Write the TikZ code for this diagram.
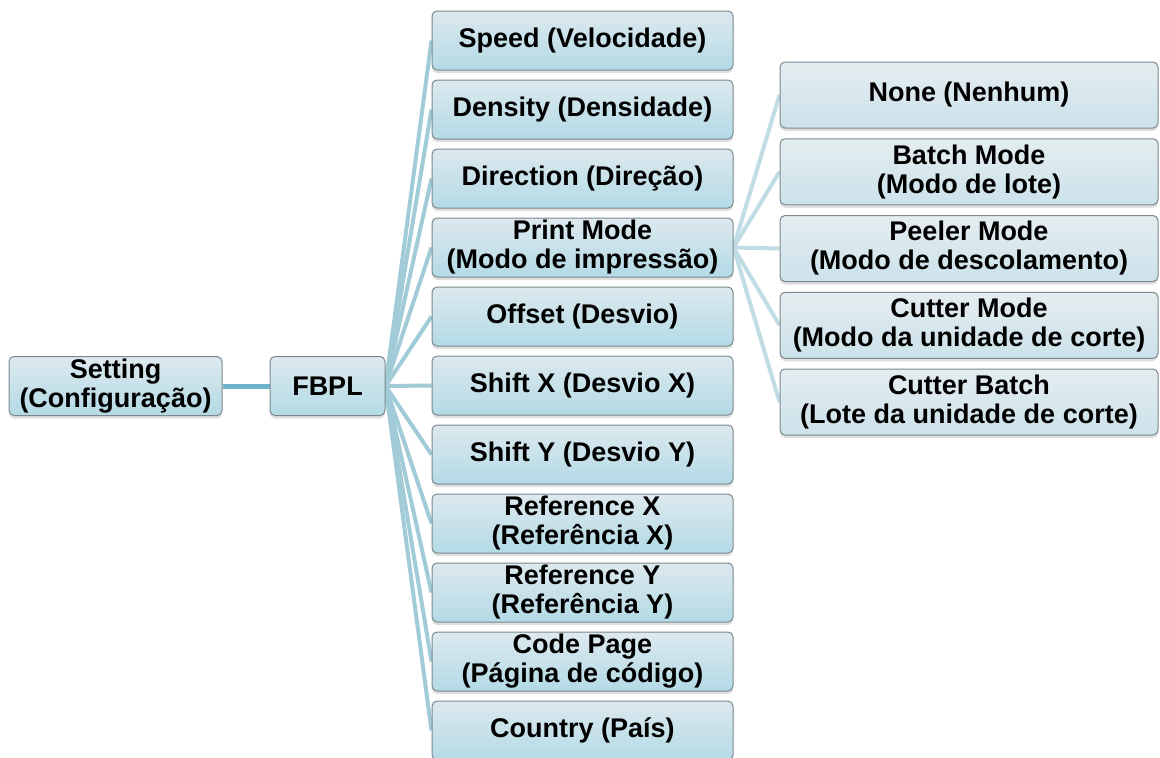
\documentclass[tikz,border=0pt]{standalone}
\usepackage{fontspec}
\setmainfont{Liberation Sans}
\usetikzlibrary{positioning,shadows,backgrounds}
\definecolor{boxtop}{HTML}{DDE9EE}
\definecolor{boxbot}{HTML}{B3DAE6}
\definecolor{subtop}{HTML}{E4EDF0}
\definecolor{subbot}{HTML}{CCE2EA}
\definecolor{boxline}{HTML}{7B898E}
\definecolor{maincol}{HTML}{6DB3CB}
\definecolor{linkcol}{HTML}{A2CBD8}
\definecolor{subcol}{HTML}{C0DCE5}

\begin{document}
\begin{tikzpicture}[x=1pt,y=-1pt,
  font=\fontsize{27}{29}\selectfont\bfseries,
  box/.style={draw=boxline,line width=1pt,rounded corners=5pt,
    top color=boxtop,bottom color=boxbot,
    drop shadow={shadow xshift=0pt,shadow yshift=-3pt,opacity=0.25},
    align=center,inner sep=0pt,minimum height=59pt},
  subbox/.style={box,top color=subtop,bottom color=subbot,
    minimum width=378pt,minimum height=66pt},
  link/.style={line width=4pt,linkcol}]
\useasboundingbox (0,0) rectangle (1160,758);
\node[box,minimum width=213pt] (setting) at (115.5,386) {Setting\\(Configuração)};
\node[box,minimum width=115pt] (fbpl) at (327.5,386) {FBPL};
\foreach \txt [count=\i] in {Speed (Velocidade),Density (Densidade),Direction (Direção),
    {Print Mode\\(Modo de impressão)},Offset (Desvio),Shift X (Desvio X),Shift Y (Desvio Y),
    {Reference X\\(Referência X)},{Reference Y\\(Referência Y)},
    {Code Page\\(Página de código)},Country (País)}
  \node[box,minimum width=301pt] (c\i) at (582.5,{40.5+69*(\i-1)}) {\txt};
\foreach \txt [count=\i] in {None (Nenhum),{Batch Mode\\(Modo de lote)},
    {Peeler Mode\\(Modo de descolamento)},{Cutter Mode\\(Modo da unidade de corte)},
    {Cutter Batch\\(Lote da unidade de corte)}}
  \node[subbox] (d\i) at (969,{95+76.75*(\i-1)}) {\txt};
\begin{scope}[on background layer]
  \draw[link,maincol,line width=5pt] (setting) -- (fbpl);
  \foreach \i in {1,...,11}
    \draw[link] (fbpl.east) -- (c\i.west);
  \foreach \i in {1,...,5}
    \draw[link,subcol] (c4.east) -- (d\i.west);
\end{scope}
\end{tikzpicture}
\end{document}
